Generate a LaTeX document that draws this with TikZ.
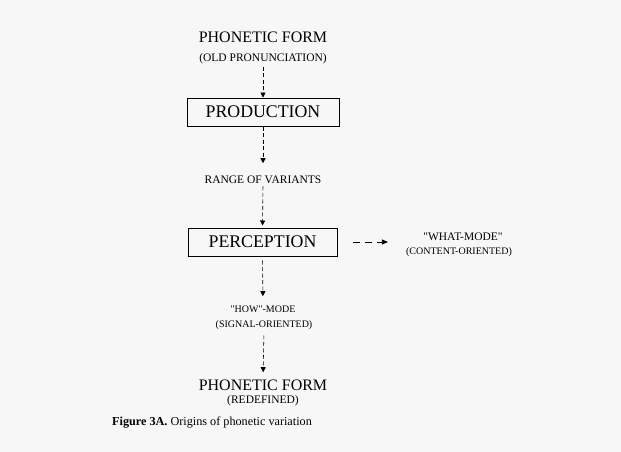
\documentclass[tikz,border=0pt]{standalone}
\usepackage{fontspec}
\setmainfont{Liberation Serif}
\usetikzlibrary{arrows.meta}
\begin{document}
\begin{tikzpicture}[x=1pt,y=-1pt,
  lbl/.style={inner sep=0pt, anchor=base},
  big/.style={lbl, font=\fontsize{16}{16}\selectfont},
  small/.style={lbl, font=\fontsize{11.5}{12}\selectfont},
  tiny/.style={lbl, font=\fontsize{10}{10}\selectfont},
  stagebox/.style={draw, line width=1pt, inner sep=0pt, minimum height=28pt, font=\fontsize{17.8}{18}\selectfont},
  arr/.style={line width=0.6pt, dash pattern=on 4pt off 2.5pt, -{Triangle[width=5pt,length=5pt]}},
  harr/.style={line width=0.8pt, dash pattern=on 7pt off 5pt, -{Triangle[width=5pt,length=6pt]}}
]
\fill[black!3] (0,0) rectangle (621,452);
\useasboundingbox (0,0) rectangle (621,452);

\node[big]   (pf1) at (263,43) {PHONETIC FORM};
\node[small] (old) at (263,62) {(OLD PRONUNCIATION)};
\node[stagebox, minimum width=152pt] (prod) at (263,112) {PRODUCTION};
\node[small] (range) at (263,183) {RANGE OF VARIANTS};
\node[stagebox, minimum width=149pt] (perc) at (262.5,242) {PERCEPTION};
\node[small] (what) at (463,240) {\textquotedbl WHAT-MODE\textquotedbl};
\node[tiny]  (content) at (459,254.5) {(CONTENT-ORIENTED)};
\node[tiny]  (how) at (263,312) {\textquotedbl HOW\textquotedbl-MODE};
\node[tiny]  (signal) at (264,327) {(SIGNAL-ORIENTED)};
\node[big]   (pf2) at (263,390) {PHONETIC FORM};
\node[small] (redef) at (263,403) {(REDEFINED)};
\node[lbl, anchor=base west, font=\fontsize{12.2}{13}\selectfont] (cap) at (112,425) {\textbf{Figure 3A.} Origins of phonetic variation};

\draw[arr, shorten <=2pt] (old.south) -- (prod.north);
\draw[arr, shorten >=12pt] (prod.south) -- (range.north);
\draw[arr, shorten <=3pt, shorten >=2pt] (range.south) -- (perc.north);
\draw[arr, shorten <=4pt, shorten >=9pt] (perc.south) -- (how.north);
\draw[arr, shorten <=6pt, shorten >=7pt] (signal.south) -- (pf2.north);
\draw[harr, shorten <=15pt, shorten >=18pt] (perc.east) -- (perc.east -| content.west);
\end{tikzpicture}
\end{document}
